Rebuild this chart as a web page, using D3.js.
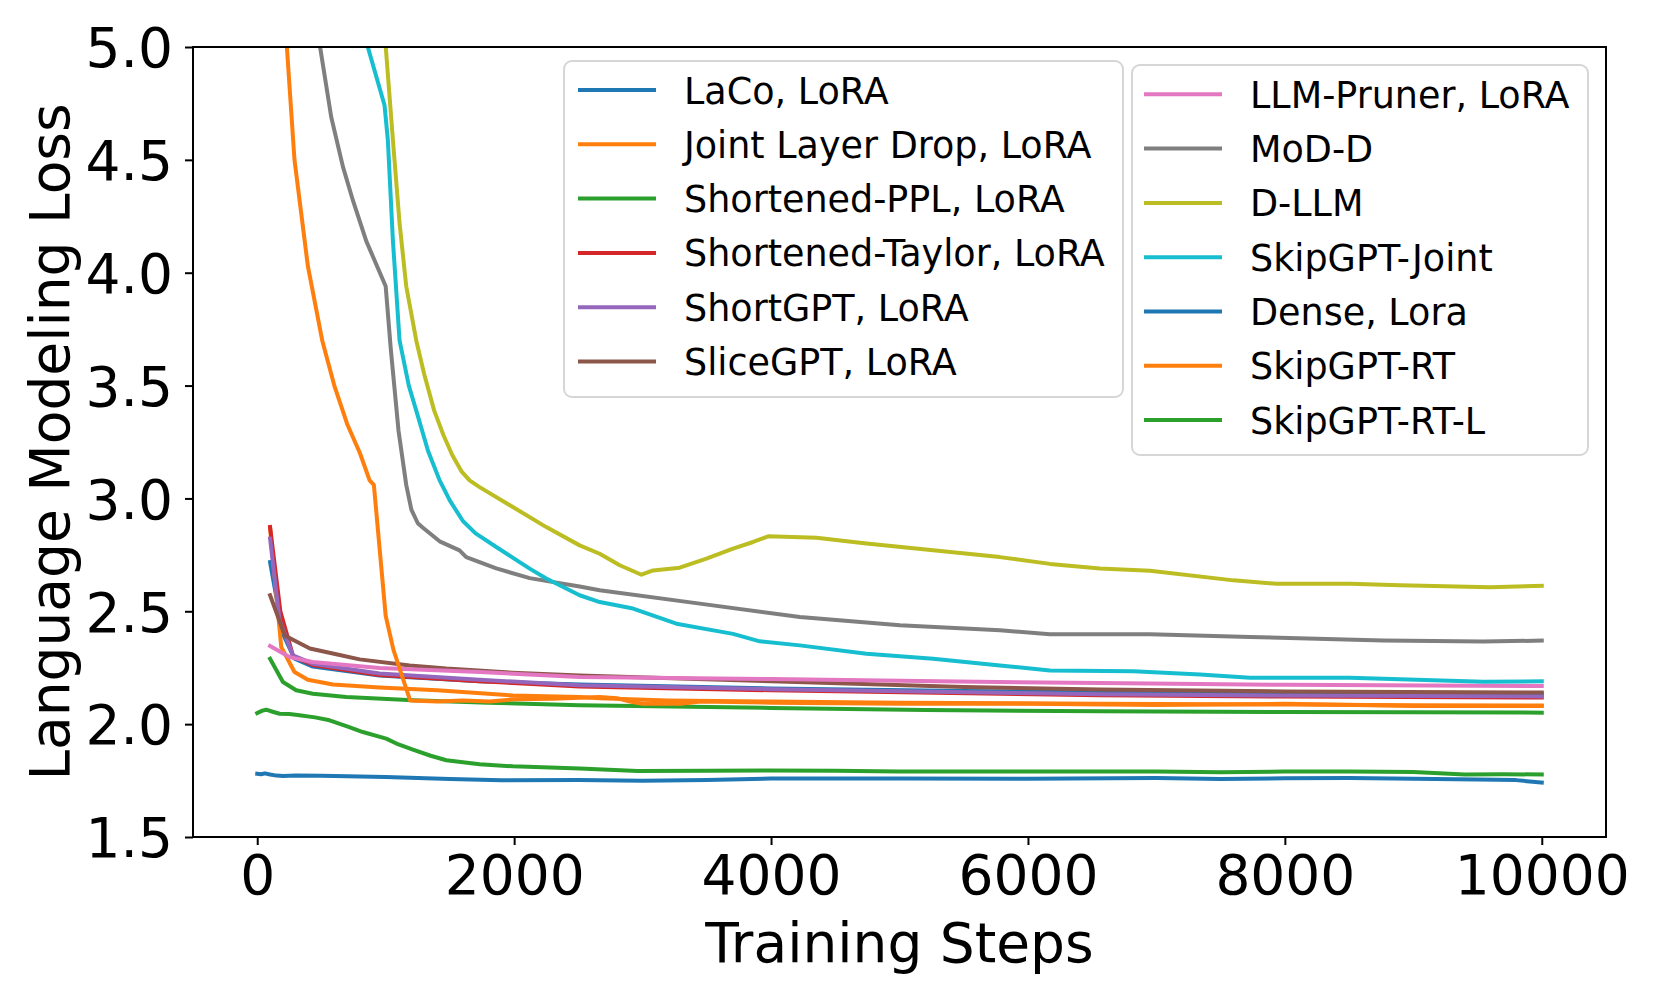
<!DOCTYPE html>
<html>
<head>
<meta charset="utf-8">
<script src="https://cdn.jsdelivr.net/npm/d3@7/dist/d3.min.js"></script>
<style>
  body { margin: 0; background: #fff; }
  text { font-family: "DejaVu Sans", sans-serif; fill: #000; }
</style>
</head>
<body>
<div id="chart"></div>
<script>
// ---- data: [training step, loss] ----
var lacoLora = [[100,2.718],[200,2.40],[290,2.29],[433,2.255],[952,2.215],[1731,2.19],[2510,2.176],[4000,2.158],[5500,2.147],[6560,2.14],[8000,2.137],[9910,2.133],[10000,2.133]];
var jointLayerDrop = [[100,2.87],[187,2.342],[290,2.231],[394,2.197],[589,2.176],[952,2.162],[1400,2.15],[1990,2.127],[2510,2.12],[2666,2.115],[3200,2.105],[4000,2.10],[5000,2.095],[6560,2.09],[8000,2.087],[9000,2.084],[10000,2.083]];
var shortenedPPL = [[100,2.29],[200,2.187],[303,2.15],[433,2.135],[693,2.12],[1211,2.106],[1800,2.095],[2510,2.084],[4000,2.072],[5200,2.063],[6560,2.057],[8000,2.054],[10000,2.051]];
var shortenedTaylor = [[100,2.873],[180,2.50],[280,2.30],[433,2.262],[952,2.218],[1731,2.19],[2510,2.167],[4000,2.15],[6560,2.128],[8000,2.122],[10000,2.118]];
var shortGPT = [[100,2.822],[174,2.46],[277,2.305],[433,2.268],[952,2.224],[1731,2.197],[2510,2.172],[4000,2.155],[6560,2.132],[8000,2.127],[10000,2.123]];
var sliceGPT = [[100,2.571],[214,2.393],[410,2.335],[615,2.31],[797,2.287],[1187,2.26],[1472,2.246],[1988,2.228],[2510,2.216],[4000,2.19],[5500,2.165],[6560,2.153],[8000,2.145],[10000,2.14]];
var llmPruner = [[100,2.346],[251,2.297],[430,2.275],[952,2.249],[1731,2.231],[2510,2.209],[4000,2.20],[5300,2.19],[6560,2.182],[8000,2.174],[10000,2.169]];
var modD = [[400,5.32],[576,4.69],[667,4.47],[745,4.32],[849,4.14],[1000,3.94],[1040,3.66],[1100,3.30],[1160,3.06],[1200,2.95],[1250,2.89],[1290,2.87],[1420,2.81],[1575,2.77],[1627,2.74],[1861,2.69],[2121,2.647],[2510,2.61],[2666,2.593],[3445,2.534],[4224,2.475],[5003,2.438],[5782,2.416],[6171,2.398],[6950,2.398],[7729,2.386],[8765,2.371],[9544,2.366],[10000,2.37]];
var dLLM = [[960,5.30],[1056,4.59],[1108,4.22],[1160,3.94],[1238,3.70],[1300,3.55],[1377,3.39],[1450,3.28],[1520,3.19],[1590,3.12],[1653,3.08],[1731,3.05],[1990,2.962],[2250,2.873],[2510,2.792],[2666,2.755],[2822,2.704],[2991,2.662],[3081,2.681],[3289,2.693],[3497,2.733],[3704,2.778],[3860,2.807],[3977,2.832],[4353,2.826],[4743,2.80],[5262,2.77],[5781,2.74],[6171,2.71],[6560,2.69],[6950,2.68],[7600,2.637],[7936,2.622],[8507,2.622],[8897,2.615],[9597,2.607],[10000,2.613]];
var skipJoint = [[750,5.22],[991,4.742],[1017,4.587],[1056,4.144],[1108,3.70],[1180,3.50],[1253,3.36],[1330,3.21],[1420,3.08],[1500,2.99],[1601,2.90],[1700,2.845],[1861,2.785],[2121,2.689],[2250,2.645],[2510,2.571],[2666,2.541],[2926,2.512],[3263,2.445],[3704,2.40],[3912,2.367],[4224,2.349],[4743,2.312],[5262,2.29],[5782,2.26],[6171,2.238],[6820,2.234],[7340,2.22],[7729,2.206],[8507,2.206],[9026,2.197],[9544,2.188],[10000,2.19]];
var denseLora = [[0,1.78],[30,1.778],[60,1.782],[100,1.777],[150,1.772],[200,1.77],[300,1.772],[500,1.771],[1000,1.766],[1500,1.757],[1900,1.751],[2500,1.752],[3000,1.749],[3500,1.753],[4000,1.759],[5000,1.759],[6000,1.758],[7000,1.761],[7500,1.757],[8000,1.76],[8500,1.761],[9000,1.758],[9500,1.755],[9800,1.752],[10000,1.741]];
var skipRT = [[200,5.26],[290,4.5],[394,4.03],[506,3.70],[600,3.50],[700,3.33],[800,3.20],[875,3.08],[908,3.06],[1000,2.48],[1060,2.33],[1190,2.105],[1400,2.10],[1600,2.105],[1810,2.10],[2000,2.11],[2300,2.113],[2666,2.12],[2800,2.115],[2900,2.10],[3000,2.09],[3300,2.09],[3450,2.10],[4000,2.095],[5000,2.09],[6000,2.09],[7000,2.085],[8000,2.09],[9000,2.08],[10000,2.08]];
var skipRTL = [[0,2.049],[40,2.06],[70,2.064],[120,2.055],[174,2.046],[250,2.045],[329,2.039],[450,2.03],[563,2.017],[700,1.99],[822,1.965],[1004,1.936],[1100,1.91],[1212,1.887],[1350,1.86],[1472,1.84],[1731,1.822],[1990,1.813],[2510,1.803],[2960,1.792],[3500,1.793],[3964,1.795],[4500,1.793],[5000,1.79],[6000,1.79],[7000,1.79],[7500,1.787],[8000,1.79],[8500,1.79],[9000,1.788],[9400,1.777],[9700,1.778],[10000,1.777]];

var seriesNames = ["LaCo, LoRA", "Joint Layer Drop, LoRA", "Shortened-PPL, LoRA", "Shortened-Taylor, LoRA", "ShortGPT, LoRA", "SliceGPT, LoRA",
                   "LLM-Pruner, LoRA", "MoD-D", "D-LLM", "SkipGPT-Joint", "Dense, Lora", "SkipGPT-RT", "SkipGPT-RT-L"];
var seriesValues = [lacoLora, jointLayerDrop, shortenedPPL, shortenedTaylor, shortGPT, sliceGPT,
                    llmPruner, modD, dLLM, skipJoint, denseLora, skipRT, skipRTL];
var seriesColors = ["#1f77b4", "#ff7f0e", "#2ca02c", "#d62728", "#9467bd", "#8c564b",
                    "#e377c2", "#7f7f7f", "#bcbd22", "#17becf", "#1f77b4", "#ff7f0e", "#2ca02c"];
var xTicks = [0, 2000, 4000, 6000, 8000, 10000];
var yTicks = [1.5, 2.0, 2.5, 3.0, 3.5, 4.0, 4.5, 5.0];

// ---- layout ----
var width = 1661, height = 997;
var plotLeft = 193, plotRight = 1606, plotTop = 47, plotBottom = 837;
var tickFont = 55, legendFont = 36.5;

var data = seriesNames.map(function(n, i) {
  return { name: n, color: seriesColors[i], values: seriesValues[i] };
});

var xScale = d3.scaleLinear().domain([-500, 10500]).range([plotLeft, plotRight]);
var yScale = d3.scaleLinear().domain([1.5, 5.0]).range([plotBottom, plotTop]);

var svg = d3.select("#chart").append("svg")
  .attr("width", width)
  .attr("height", height)
  .style("display", "block");

svg.append("rect").attr("width", width).attr("height", height).attr("fill", "#fff");

svg.append("clipPath").attr("id", "plotclip")
  .append("rect")
  .attr("x", plotLeft).attr("y", plotTop)
  .attr("width", plotRight - plotLeft).attr("height", plotBottom - plotTop);

/* lines */
var line = d3.line()
  .x(d => xScale(d[0]))
  .y(d => yScale(d[1]));

svg.append("g")
  .attr("class", "lines")
  .attr("clip-path", "url(#plotclip)")
  .selectAll("path")
  .data(data).enter()
  .append("path")
  .attr("d", d => line(d.values))
  .attr("fill", "none")
  .attr("stroke", d => d.color)
  .attr("stroke-width", 4)
  .attr("stroke-linejoin", "round")
  .attr("stroke-linecap", "square");

/* axes */
var xAxis = d3.axisBottom(xScale).tickValues(xTicks).tickSize(8).tickPadding(10).tickFormat(d3.format("d"));
var yAxis = d3.axisLeft(yScale).tickValues(yTicks).tickSize(8).tickPadding(12).tickFormat(d3.format(".1f"));

var gx = svg.append("g")
  .attr("transform", `translate(0, ${plotBottom})`)
  .call(xAxis);
var gy = svg.append("g")
  .attr("transform", `translate(${plotLeft}, 0)`)
  .call(yAxis);

[gx, gy].forEach(function(g) {
  g.select(".domain").remove();
  g.attr("font-family", "DejaVu Sans, sans-serif").attr("font-size", tickFont);
  g.selectAll(".tick line").attr("stroke", "#000").attr("stroke-width", 2);
  g.selectAll(".tick text").attr("fill", "#000");
});
gy.selectAll(".tick text").attr("dy", "0.36em");

svg.append("rect")
  .attr("x", plotLeft).attr("y", plotTop)
  .attr("width", plotRight - plotLeft).attr("height", plotBottom - plotTop)
  .attr("fill", "none")
  .attr("stroke", "#000")
  .attr("stroke-width", 2);

svg.append("text")
  .attr("x", (plotLeft + plotRight) / 2)
  .attr("y", 962)
  .attr("text-anchor", "middle")
  .attr("font-size", tickFont)
  .text("Training Steps");

svg.append("text")
  .attr("transform", `translate(69, ${(plotTop + plotBottom) / 2}) rotate(-90)`)
  .attr("text-anchor", "middle")
  .attr("font-size", tickFont)
  .text("Language Modeling Loss");

/* legends */
function drawLegend(items, box, rowY0, handleX) {
  var g = svg.append("g").attr("class", "legend");
  g.append("rect")
    .attr("x", box[0]).attr("y", box[1])
    .attr("width", box[2] - box[0]).attr("height", box[3] - box[1])
    .attr("rx", 8).attr("ry", 8)
    .attr("fill", "#fff").attr("fill-opacity", 0.8)
    .attr("stroke", "#d6d6d6").attr("stroke-width", 2);
  var rows = g.selectAll(".row").data(items).enter()
    .append("g")
    .attr("transform", (d, i) => `translate(0, ${rowY0 + i * 54.3})`);
  rows.append("line")
    .attr("x1", handleX).attr("x2", handleX + 78)
    .attr("stroke", d => d.color)
    .attr("stroke-width", 4);
  rows.append("text")
    .attr("x", handleX + 106)
    .attr("y", 13.5)
    .attr("font-size", legendFont)
    .text(d => d.name);
}

drawLegend(data.slice(0, 6), [564, 61, 1123, 397], 90, 578);
drawLegend(data.slice(6), [1132, 65, 1588, 455], 94.3, 1144);
</script>
</body>
</html>
